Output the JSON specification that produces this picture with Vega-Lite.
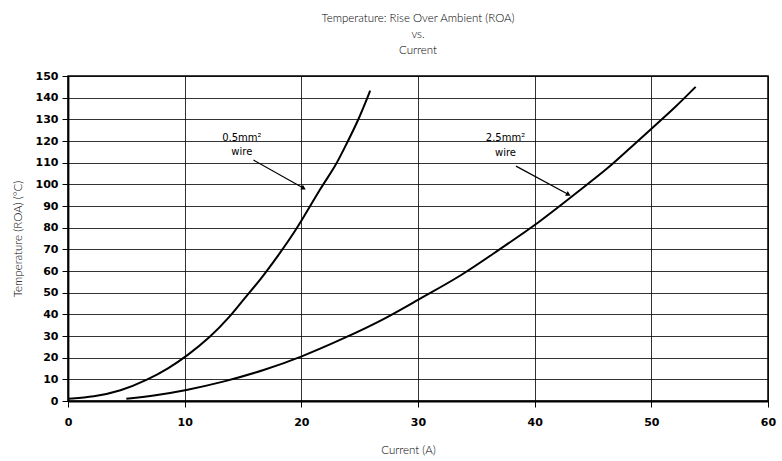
{
  "$schema": "https://vega.github.io/schema/vega-lite/v6.json",
  "width": 700,
  "height": 325,
  "autosize": {"type": "none"},
  "padding": {"left": 68, "top": 76, "right": 14, "bottom": 60},
  "background": "white",
  "title": {
    "text": ["Temperature: Rise Over Ambient (ROA)", "vs.", "Current"],
    "anchor": "middle",
    "font": "Lato",
    "fontWeight": 300,
    "fontSize": 11.5,
    "lineHeight": 16,
    "color": "#000",
    "offset": 14
  },
  "config": {
    "view": {"stroke": "#000", "strokeWidth": 1.5},
    "axis": {
      "labelFont": "DejaVu Sans",
      "labelFontWeight": "bold",
      "labelFontSize": 11,
      "labelColor": "#000",
      "labelOverlap": false,
      "labelFlush": false,
      "labelBound": false,
      "titleFont": "Lato",
      "titleFontWeight": 300,
      "titleFontSize": 11.5,
      "titleColor": "#000",
      "domainColor": "#000",
      "domainWidth": 1.8,
      "tickColor": "#000",
      "tickSize": 6,
      "tickWidth": 1,
      "gridColor": "#000",
      "gridOpacity": 0.8,
      "gridWidth": 1
    }
  },
  "datasets": {
    "curves": [
      {"wire": "0.5mm2", "current": 0, "temp": 1},
      {"wire": "0.5mm2", "current": 2.2, "temp": 1.9},
      {"wire": "0.5mm2", "current": 4.5, "temp": 4.5},
      {"wire": "0.5mm2", "current": 6.8, "temp": 9.7},
      {"wire": "0.5mm2", "current": 8.6, "temp": 15},
      {"wire": "0.5mm2", "current": 10.2, "temp": 20.8},
      {"wire": "0.5mm2", "current": 12.2, "temp": 29.5},
      {"wire": "0.5mm2", "current": 13.9, "temp": 39},
      {"wire": "0.5mm2", "current": 15, "temp": 46.6},
      {"wire": "0.5mm2", "current": 16.5, "temp": 56},
      {"wire": "0.5mm2", "current": 18, "temp": 67},
      {"wire": "0.5mm2", "current": 19.7, "temp": 80},
      {"wire": "0.5mm2", "current": 21.7, "temp": 98.9},
      {"wire": "0.5mm2", "current": 22.9, "temp": 108},
      {"wire": "0.5mm2", "current": 23.9, "temp": 119},
      {"wire": "0.5mm2", "current": 24.9, "temp": 129.7},
      {"wire": "0.5mm2", "current": 25.9, "temp": 143.2},
      {"wire": "2.5mm2", "current": 5, "temp": 1},
      {"wire": "2.5mm2", "current": 7.5, "temp": 2.6},
      {"wire": "2.5mm2", "current": 10, "temp": 4.8},
      {"wire": "2.5mm2", "current": 13.4, "temp": 8.9},
      {"wire": "2.5mm2", "current": 16.7, "temp": 14},
      {"wire": "2.5mm2", "current": 20, "temp": 20.3},
      {"wire": "2.5mm2", "current": 23.5, "temp": 28.5},
      {"wire": "2.5mm2", "current": 27.3, "temp": 38.2},
      {"wire": "2.5mm2", "current": 30.3, "temp": 47.7},
      {"wire": "2.5mm2", "current": 33.7, "temp": 57.7},
      {"wire": "2.5mm2", "current": 36.9, "temp": 69.7},
      {"wire": "2.5mm2", "current": 40.3, "temp": 82},
      {"wire": "2.5mm2", "current": 43.7, "temp": 96.6},
      {"wire": "2.5mm2", "current": 46.3, "temp": 107.4},
      {"wire": "2.5mm2", "current": 48.3, "temp": 117.4},
      {"wire": "2.5mm2", "current": 50.2, "temp": 126.6},
      {"wire": "2.5mm2", "current": 52.1, "temp": 135.8},
      {"wire": "2.5mm2", "current": 53.8, "temp": 145}
    ],
    "arrows": [
      {"current": 20.2, "temp": 98.2, "current2": 15.9, "temp2": 111.2},
      {"current": 42.9, "temp": 95.3, "current2": 38.4, "temp2": 108.4}
    ],
    "labels": [
      {"current": 14.9, "temp": 121.5, "label": "0.5mm²"},
      {"current": 14.9, "temp": 115.0, "label": "wire"},
      {"current": 37.5, "temp": 121.5, "label": "2.5mm²"},
      {"current": 37.5, "temp": 114.3, "label": "wire"}
    ]
  },
  "encoding": {
    "x": {
      "field": "current", "type": "quantitative",
      "scale": {"domain": [0, 60], "nice": false},
      "axis": {"values": [0, 10, 20, 30, 40, 50, 60], "title": "Current (A)", "labelPadding": 9, "titlePadding": 17, "titleX": 340}
    },
    "y": {
      "field": "temp", "type": "quantitative",
      "scale": {"domain": [0, 150], "nice": false},
      "axis": {"values": [0,10,20,30,40,50,60,70,80,90,100,110,120,130,140,150], "title": "Temperature (ROA) (°C)", "labelPadding": 4, "titlePadding": 12}
    }
  },
  "layer": [
    {
      "data": {"name": "curves"},
      "mark": {"type": "line", "color": "#000", "strokeWidth": 2, "interpolate": "basis"},
      "encoding": {
        "detail": {"field": "wire"}
      }
    },
    {
      "data": {"name": "arrows"},
      "mark": {"type": "rule", "color": "#000", "strokeWidth": 1.2},
      "encoding": {
        "x2": {"field": "current2"},
        "y2": {"field": "temp2"}
      }
    },
    {
      "data": {"name": "arrows"},
      "mark": {"type": "point", "shape": "triangle-right", "filled": true, "color": "#000", "size": 30, "angle": 29, "opacity": 1},
      "encoding": {}
    },
    {
      "data": {"name": "labels"},
      "mark": {"type": "text", "font": "DejaVu Sans", "fontSize": 10, "color": "#000", "align": "center", "baseline": "middle"},
      "encoding": {
        "text": {"field": "label"}
      }
    }
  ]
}
